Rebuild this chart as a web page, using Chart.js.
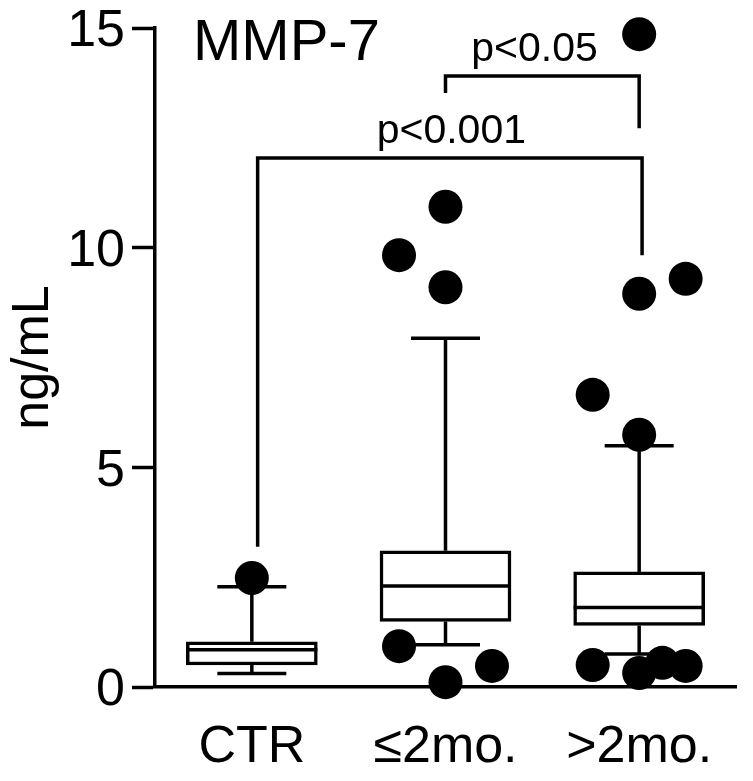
<!DOCTYPE html>
<html>
<head>
<meta charset="utf-8">
<script src="https://cdn.jsdelivr.net/npm/chart.js@4"></script>
<style>
  html, body { margin: 0; padding: 0; background: #fff; }
</style>
</head>
<body>
<canvas id="mmp7" width="753" height="781"></canvas>
<script>
// groups and box statistics (ng/mL)
const categories = ['CTR', '\u22642mo.', '>2mo.'];
const lowerWhisker = [0.31, 0.96, 0.75];
const q1 = [0.50, 1.49, 1.40];
const medians = [0.85, 2.30, 1.81];
const q3 = [1.03, 3.10, 2.62];
const upperWhisker = [2.28, 7.94, 5.49];

// outlier dots (x = group position, small offsets where dots are spread out)
const outlierX = [0, 1, 0.76, 1, 0.76, 1.24, 1, 2, 2, 2.24, 1.76, 2, 1.76, 2, 2.12, 2.24];
const outlierY = [2.48, 10.93, 9.83, 9.10, 0.93, 0.48, 0.11, 14.86, 8.95, 9.29, 6.65, 5.74, 0.50, 0.32, 0.55, 0.48];

const yTicks = [0, 5, 10, 15];

// significance brackets
const bracketLabels = ['p<0.001', 'p<0.05'];
const bracketFrom = [0.03, 1];
const bracketTo = [2.015, 2];
const bracketTop = [12.04, 13.91];
const bracketLeftEnd = [3.19, 13.52];
const bracketRightEnd = [9.83, 12.72];
const bracketLabelX = [1.03, 1.46];

const FONT = '"Liberation Sans", Arial, Helvetica, sans-serif';
const LINE = 3.5;
const BOX_W = 131;
const CAP_W = 69;

function seg(ctx, x1, y1, x2, y2) {
  ctx.beginPath();
  ctx.moveTo(x1, y1);
  ctx.lineTo(x2, y2);
  ctx.stroke();
}

const boxPlotExtras = {
  id: 'boxPlotExtras',
  beforeDatasetsDraw(chart) {
    const {ctx, scales: {x, y}} = chart;
    ctx.save();
    ctx.strokeStyle = '#000';
    ctx.lineWidth = LINE;
    categories.forEach((c, i) => {
      const cx = x.getPixelForValue(i);
      const yHi = y.getPixelForValue(upperWhisker[i]);
      const yLo = y.getPixelForValue(lowerWhisker[i]);
      seg(ctx, cx, y.getPixelForValue(q3[i]), cx, yHi);
      seg(ctx, cx, y.getPixelForValue(q1[i]), cx, yLo);
      seg(ctx, cx - CAP_W / 2, yHi, cx + CAP_W / 2, yHi);
      seg(ctx, cx - CAP_W / 2, yLo, cx + CAP_W / 2, yLo);
    });
    ctx.restore();
  },
  afterDatasetDraw(chart, args) {
    if (args.meta.type !== 'bar') return;
    const {ctx, scales: {x, y}} = chart;
    ctx.save();
    ctx.strokeStyle = '#000';
    ctx.lineWidth = LINE;
    categories.forEach((c, i) => {
      const cx = x.getPixelForValue(i);
      const my = y.getPixelForValue(medians[i]);
      seg(ctx, cx - BOX_W / 2, my, cx + BOX_W / 2, my);
    });
    ctx.restore();
  },
  afterDraw(chart) {
    const {ctx, scales: {x, y}} = chart;
    ctx.save();
    ctx.strokeStyle = '#000';
    ctx.fillStyle = '#000';
    ctx.lineWidth = LINE;
    ctx.lineJoin = 'miter';
    bracketLabels.forEach((lab, i) => {
      const xl = x.getPixelForValue(bracketFrom[i]);
      const xr = x.getPixelForValue(bracketTo[i]);
      const yt = y.getPixelForValue(bracketTop[i]);
      ctx.beginPath();
      ctx.moveTo(xl, y.getPixelForValue(bracketLeftEnd[i]));
      ctx.lineTo(xl, yt);
      ctx.lineTo(xr, yt);
      ctx.lineTo(xr, y.getPixelForValue(bracketRightEnd[i]));
      ctx.stroke();
      ctx.font = '41px ' + FONT;
      ctx.textAlign = 'center';
      ctx.textBaseline = 'alphabetic';
      ctx.fillText(lab, x.getPixelForValue(bracketLabelX[i]), yt - 15);
    });
    ctx.font = '58px ' + FONT;
    ctx.textAlign = 'left';
    ctx.textBaseline = 'alphabetic';
    ctx.fillText('MMP-7', 193, 60);
    ctx.restore();
  }
};

const boxData = categories.map((c, i) => ({ x: i, y: [q1[i], q3[i]] }));
const dotData = outlierX.map((v, i) => ({ x: v, y: outlierY[i] }));

new Chart(document.getElementById('mmp7'), {
  type: 'bar',
  data: {
    datasets: [{
      label: 'box',
      data: boxData,
      backgroundColor: '#fff',
      borderColor: '#000',
      borderWidth: LINE,
      borderSkipped: false,
      barThickness: BOX_W,
      order: 1
    }, {
      type: 'scatter',
      label: 'outliers',
      data: dotData,
      backgroundColor: '#000',
      borderWidth: 0,
      pointRadius: 17,
      pointHoverRadius: 17,
      clip: false,
      order: 0
    }]
  },
  options: {
    responsive: false,
    devicePixelRatio: 1,
    animation: false,
    events: [],
    layout: { padding: { left: 0, right: 14, top: 28, bottom: 0 } },
    plugins: { legend: { display: false }, tooltip: { enabled: false } },
    scales: {
      x: {
        type: 'linear',
        offset: false,
        min: -0.5,
        max: 2.5,
        afterBuildTicks: (scale) => { scale.ticks = categories.map((c, i) => ({ value: i })); },
        afterFit: (scale) => {
          scale.height = 94;
          scale.paddingLeft = 0;
          scale.paddingRight = 0;
        },
        ticks: {
          callback: (v) => categories[v],
          color: '#000',
          font: { family: FONT, size: 52 },
          padding: 29,
          maxRotation: 0,
          autoSkip: false
        },
        grid: { display: false, drawTicks: false },
        border: { display: true, color: '#000', width: LINE }
      },
      y: {
        min: 0,
        max: 15,
        afterBuildTicks: (scale) => { scale.ticks = yTicks.map(v => ({ value: v })); },
        afterFit: (scale) => {
          scale.width = 155;
          scale.paddingTop = 0;
          scale.paddingBottom = 0;
        },
        ticks: {
          color: '#000',
          font: { family: FONT, size: 52 },
          padding: 7,
          labelOffset: 4
        },
        grid: {
          drawOnChartArea: false,
          drawTicks: true,
          tickLength: 23,
          tickWidth: LINE,
          tickColor: '#000'
        },
        border: { display: true, color: '#000', width: LINE },
        title: {
          display: true,
          text: 'ng/mL',
          color: '#000',
          font: { family: FONT, size: 52 },
          padding: { top: 2, bottom: 0 }
        }
      }
    }
  },
  plugins: [boxPlotExtras]
});
</script>
</body>
</html>
